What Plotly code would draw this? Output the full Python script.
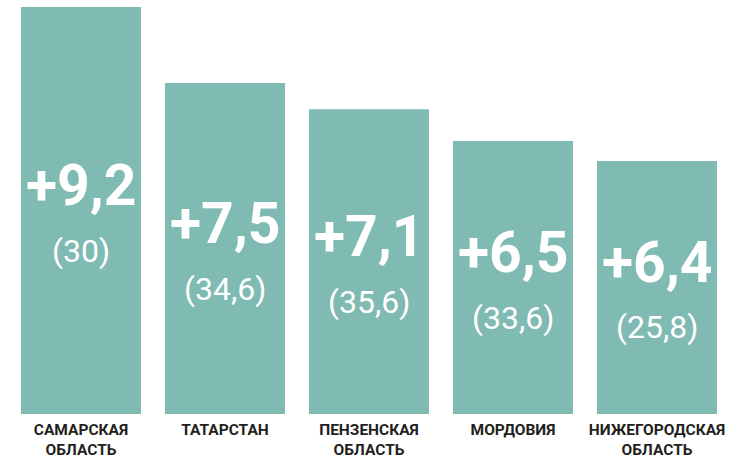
import plotly.graph_objects as go

categories = ["САМАРСКАЯ<br>ОБЛАСТЬ", "ТАТАРСТАН", "ПЕНЗЕНСКАЯ<br>ОБЛАСТЬ", "МОРДОВИЯ", "НИЖЕГОРОДСКАЯ<br>ОБЛАСТЬ"]
bar_heights = [9.2, 7.48, 6.89, 6.17, 5.72]
gain_labels = ["+9,2", "+7,5", "+7,1", "+6,5", "+6,4"]
base_labels = ["(30)", "(34,6)", "(35,6)", "(33,6)", "(25,8)"]

FONT = "Roboto, Arial, sans-serif"
BAR = "#7fbab3"

fig = go.Figure(go.Bar(
    x=categories, y=bar_heights, marker=dict(color=BAR, line=dict(width=0)),
    hoverinfo="skip"))

ann = []
for c, h, g, b in zip(categories, bar_heights, gain_labels, base_labels):
    ann.append(dict(x=c, y=h / 2, text=g, showarrow=False, yshift=25,
                    font=dict(family=FONT, size=57, color="white", weight="bold")))
    ann.append(dict(x=c, y=h / 2, text=b, showarrow=False, yshift=-40,
                    font=dict(family=FONT, size=32, color="white")))

fig.update_layout(
    width=735, height=461,
    margin=dict(l=9, r=6, t=0, b=47),
    paper_bgcolor="white", plot_bgcolor="white",
    bargap=1 - 120 / 144,
    showlegend=False,
    annotations=ann,
    xaxis=dict(showgrid=False, zeroline=False, showline=False, ticks="",
               ticklabelstandoff=4,
               tickfont=dict(family=FONT, size=15.5, color="#231f20", weight="bold")),
    yaxis=dict(visible=False, range=[0, 414 / 44.24]),
)
fig.write_html("out.html")
